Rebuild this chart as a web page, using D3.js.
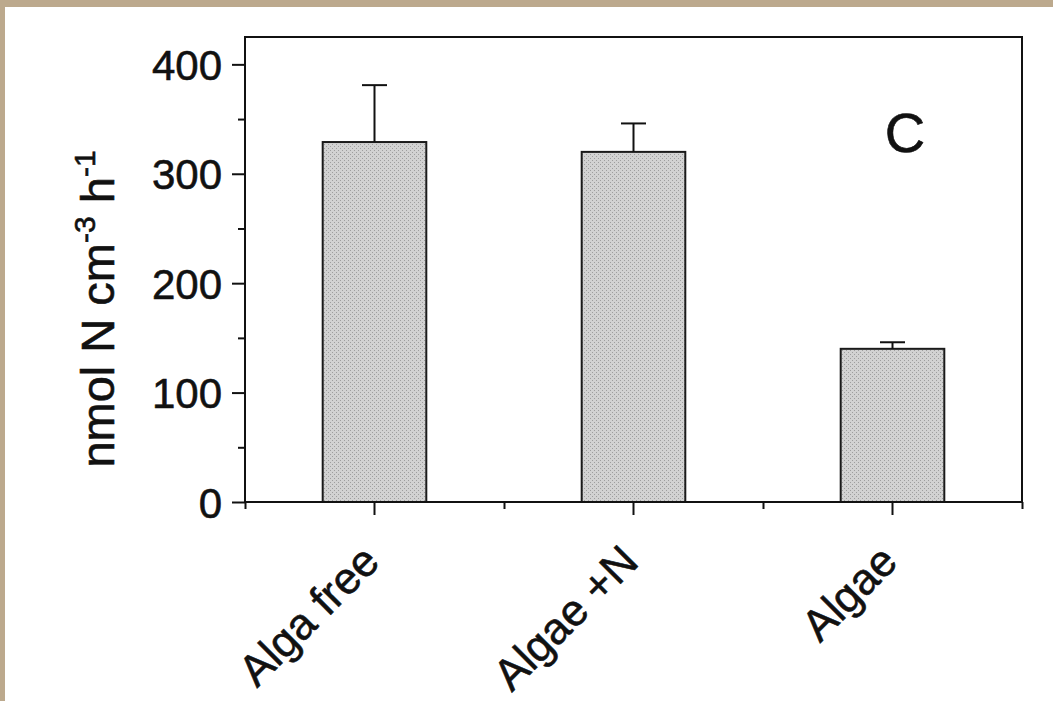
<!DOCTYPE html>
<html>
<head>
  <meta charset="utf-8">
  <title>Bar chart C</title>
  <script src="https://d3js.org/d3.v7.min.js"></script>
  <style>
    html, body { margin: 0; padding: 0; background: #fff; }
    text { font-family: "Liberation Sans", Arial, sans-serif; fill: #111; stroke: #111; stroke-width: 0.6px; }
  </style>
</head>
<body>
  <div id="chart"></div>

  <script>
    // data
    const categories = ["Alga free", "Algae +N", "Algae"];
    const values = [329, 320, 140];
    const errors = [52, 26, 6];
    const yTicks = [0, 100, 200, 300, 400];
    const yMinorTicks = [50, 150, 250, 350];
    const panelLabel = "C";

    const width = 1053, height = 701;
    const plotLeft = 245, plotRight = 1022, plotTop = 37, plotBottom = 502;

    const svg = d3.select("#chart")
      .append("svg")
      .attr("width", width)
      .attr("height", height)
      .style("display", "block");

    // white page with tan scan border on top and left
    svg.append("rect").attr("width", width).attr("height", height).attr("fill", "#fff");
    svg.append("rect").attr("width", width).attr("height", 7).attr("fill", "#bca98d");
    svg.append("rect").attr("width", 5).attr("height", height).attr("fill", "#bca98d");

    // stippled fill like the printed bars
    const defs = svg.append("defs");
    const pat = defs.append("pattern")
      .attr("id", "stipple")
      .attr("width", 4).attr("height", 4)
      .attr("patternUnits", "userSpaceOnUse");
    pat.append("rect").attr("width", 4).attr("height", 4).attr("fill", "#d2d2d2");
    pat.append("rect").attr("x", 0).attr("y", 0).attr("width", 1).attr("height", 1).attr("fill", "#9e9e9e");
    pat.append("rect").attr("x", 2).attr("y", 2).attr("width", 1).attr("height", 1).attr("fill", "#9e9e9e");

    const x = d3.scaleBand()
      .domain(categories)
      .range([plotLeft, plotRight])
      .paddingInner(0.6)
      .paddingOuter(0.3);

    // index scale, used for the small ticks between categories
    const xi = d3.scaleLinear()
      .domain([-0.5, categories.length - 0.5])
      .range([plotLeft, plotRight]);

    const y = d3.scaleLinear()
      .domain([0, 425])
      .range([plotBottom, plotTop]);

    // bars
    svg.append("g")
      .selectAll("rect")
      .data(categories)
      .join("rect")
      .attr("x", d => x(d))
      .attr("y", (d, i) => y(values[i]))
      .attr("width", x.bandwidth())
      .attr("height", (d, i) => y(0) - y(values[i]))
      .attr("fill", "url(#stipple)")
      .attr("stroke", "#1a1a1a")
      .attr("stroke-width", 2);

    // error bars (upper only)
    const err = svg.append("g").attr("stroke", "#111").attr("stroke-width", 2);
    categories.forEach((c, i) => {
      const cx = x(c) + x.bandwidth() / 2;
      err.append("line")
        .attr("x1", cx).attr("x2", cx)
        .attr("y1", y(values[i])).attr("y2", y(values[i] + errors[i]));
      err.append("line")
        .attr("x1", cx - 12.5).attr("x2", cx + 12.5)
        .attr("y1", y(values[i] + errors[i])).attr("y2", y(values[i] + errors[i]));
    });

    // frame
    svg.append("rect")
      .attr("x", plotLeft).attr("y", plotTop)
      .attr("width", plotRight - plotLeft).attr("height", plotBottom - plotTop)
      .attr("fill", "none")
      .attr("stroke", "#111")
      .attr("stroke-width", 2);

    // y axis
    const yAxis = svg.append("g")
      .attr("transform", `translate(${plotLeft},0)`)
      .call(d3.axisLeft(y).tickValues(yTicks).tickSize(13).tickPadding(10));
    yAxis.select(".domain").remove();
    yAxis.selectAll("line").attr("stroke", "#111").attr("stroke-width", 2);
    yAxis.selectAll("text").style("font-size", "42px").attr("dy", "0.36em");

    const yMinor = svg.append("g")
      .attr("transform", `translate(${plotLeft},0)`)
      .call(d3.axisLeft(y).tickValues(yMinorTicks).tickSize(7).tickFormat(""));
    yMinor.select(".domain").remove();
    yMinor.selectAll("line").attr("stroke", "#111").attr("stroke-width", 2);

    // x axis
    const xAxis = svg.append("g")
      .attr("transform", `translate(0,${plotBottom})`)
      .call(d3.axisBottom(x).tickSize(13).tickFormat(""));
    xAxis.select(".domain").remove();
    xAxis.selectAll("line").attr("stroke", "#111").attr("stroke-width", 2);

    const xMinor = svg.append("g")
      .attr("transform", `translate(0,${plotBottom})`)
      .call(d3.axisBottom(xi).tickValues(d3.range(-0.5, categories.length, 1)).tickSize(7).tickFormat(""));
    xMinor.select(".domain").remove();
    xMinor.selectAll("line").attr("stroke", "#111").attr("stroke-width", 2);

    // slanted category labels
    svg.append("g")
      .selectAll("text")
      .data(categories)
      .join("text")
      .attr("transform", d => `translate(${x(d) + x.bandwidth() / 2 + 7},564) rotate(-45)`)
      .attr("text-anchor", "end")
      .style("font-size", "44px")
      .text(d => d);

    // y axis title with superscripts
    const yt = svg.append("text")
      .attr("transform", "translate(114,309) rotate(-90)")
      .attr("text-anchor", "middle")
      .style("font-size", "47px");
    yt.append("tspan").text("nmol N cm");
    yt.append("tspan").attr("dy", -19).style("font-size", "30px").text("-3");
    yt.append("tspan").attr("dy", 19).text(" h");
    yt.append("tspan").attr("dy", -19).style("font-size", "30px").text("-1");

    // panel letter
    svg.append("text")
      .attr("x", 905).attr("y", 152)
      .attr("text-anchor", "middle")
      .style("font-size", "56px")
      .text(panelLabel);
  </script>
</body>
</html>
